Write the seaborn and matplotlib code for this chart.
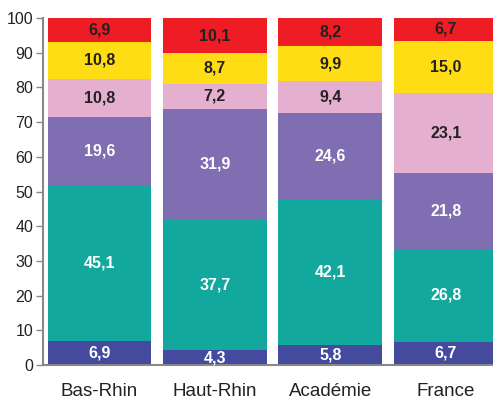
import numpy as np
import pandas as pd
import matplotlib
matplotlib.use("Agg")
import matplotlib.pyplot as plt
import seaborn as sns

# Data
categories = ["Bas-Rhin", "Haut-Rhin", "Académie", "France"]
seg1 = [6.9, 4.3, 5.8, 6.7]
seg2 = [45.1, 37.7, 42.1, 26.8]
seg3 = [19.6, 31.9, 24.6, 21.8]
seg4 = [10.8, 7.2, 9.4, 23.1]
seg5 = [10.8, 8.7, 9.9, 15.0]
seg6 = [6.9, 10.1, 8.2, 6.7]

segments = [seg1, seg2, seg3, seg4, seg5, seg6]
colors = ["#444a9e", "#12a89d", "#806eb3", "#e5afd0", "#fedd14", "#ee1c25"]
text_colors = ["white", "white", "white", "#222222", "#222222", "#222222"]

sns.set_theme(style="white")
plt.rcParams["font.family"] = ["Liberation Sans", "DejaVu Sans"]

vals = np.array(segments)
cum = vals.cumsum(axis=0)

fig = plt.figure(figsize=(4.93, 4.01), dpi=100)
ax = fig.add_axes([43 / 493, 36 / 401, 450 / 493, 347 / 401])

# draw from the top layer down so lower layers sit on top
for i in range(len(segments) - 1, -1, -1):
    df = pd.DataFrame({"cat": categories, "val": cum[i]})
    sns.barplot(data=df, x="cat", y="val", color=colors[i], saturation=1,
                width=0.9, ax=ax, linewidth=0)

for i, seg in enumerate(segments):
    for j, v in enumerate(seg):
        mid = cum[i][j] - v / 2
        ax.text(j, mid, f"{v:.1f}".replace(".", ","), ha="center", va="center",
                fontsize=11.5, fontweight="bold", color=text_colors[i])

ax.set_ylim(0, 100)
ax.set_xlim(-0.49, 3.41)
ax.set_yticks(range(0, 101, 10))
ax.set_xlabel("")
ax.set_ylabel("")

for s in ["top", "right"]:
    ax.spines[s].set_visible(False)
for s in ["left", "bottom"]:
    ax.spines[s].set_color("#888888")
    ax.spines[s].set_linewidth(1.5)

ax.tick_params(axis="y", left=True, length=5, width=1, color="#888888",
               labelsize=11.5, labelcolor="#222222", pad=2)
ax.tick_params(axis="x", bottom=False, labelsize=13.5, labelcolor="#222222", pad=7)

fig.savefig("out.png", dpi=100)
